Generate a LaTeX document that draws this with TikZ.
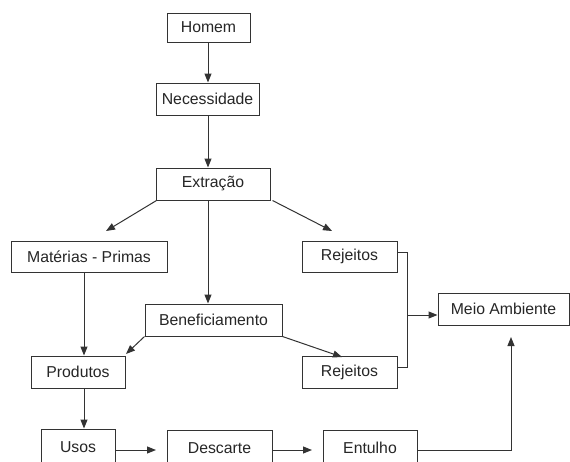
\documentclass[tikz,border=0pt]{standalone}
\usepackage{fontspec}
\setmainfont{Liberation Sans}
\usetikzlibrary{arrows.meta}
\begin{document}
\begin{tikzpicture}[x=1pt,y=-1pt,
  box/.style={draw=black!80, line width=1pt, inner sep=0pt, font=\fontsize{15.8}{18}\selectfont, text=black!85},
  conn/.style={draw=black!80, line width=1pt},
  arr/.style={conn, -{Triangle[length=9pt,width=7pt]}}]
\useasboundingbox (0,0) rectangle (570,461);
\clip (0,0) rectangle (570,461);
\fill[white] (0,0) rectangle (570,461);
% boxes
\node[box, minimum width=83pt, minimum height=29pt] (homem) at (208.5,27.5) {Homem};
\node[box, minimum width=103pt, minimum height=32pt] (neces) at (207.5,99) {Necessidade};
\node[box, minimum width=114pt, minimum height=32pt] (extr) at (213,184) {Extração};
\node[box, minimum width=156pt, minimum height=31pt] (mat) at (89,256.5) {Matérias - Primas};
\node[box, minimum width=95pt, minimum height=31pt] (rej1) at (349.5,256.5) {Rejeitos};
\node[box, minimum width=137pt, minimum height=32pt] (benef) at (213.5,320) {Beneficiamento};
\node[box, minimum width=94pt, minimum height=32pt] (prod) at (78,372) {Produtos};
\node[box, minimum width=95pt, minimum height=32pt] (rej2) at (349.5,372) {Rejeitos};
\node[box, minimum width=131pt, minimum height=32pt] (meio) at (503.5,309) {Meio Ambiente};
\node[box, minimum width=74pt, minimum height=36pt] (usos) at (78,447) {Usos};
\node[box, minimum width=105pt, minimum height=36pt] (desc) at (219.5,448) {Descarte};
\node[box, minimum width=94pt, minimum height=36pt] (entu) at (370,448) {Entulho};
% free-end coordinates
\coordinate (tmat) at (106,231);
\coordinate (trej) at (332,231);
\coordinate (tprod) at (126,354);
\coordinate (trej2) at (342,357);
\coordinate (jx) at (407,315);
\coordinate (tdesc) at (156,450);
\coordinate (tentu) at (312,450);
\coordinate (tmeio) at (511,337);
% connectors
\draw[arr] (208,42) coordinate (hs) (homem.south -| hs) -- (neces.north -| hs);
\draw[arr] (neces.south -| hs) -- (extr.north -| hs);
\draw[arr] (extr.south west) ++(1,0) -- (tmat);
\draw[arr] (extr.south east) ++(2,0) -- (trej);
\draw[arr] (extr.south -| hs) -- (benef.north -| hs);
\draw[arr] (84,272) coordinate (mx) (mat.south -| mx) -- (prod.north -| mx);
\draw[arr] (prod.south -| mx) -- (usos.north -| mx);
\draw[arr] (benef.south west) -- (tprod);
\draw[arr] (benef.south east) -- (trej2);
\draw[conn] (rej1.east) ++(0,-4) -- ++(10,0) |- ([yshift=5pt]rej2.east);
\draw[arr] (jx) -- (meio.west |- jx);
\draw[arr] (usos.east |- tdesc) -- (tdesc);
\draw[arr] (desc.east |- tentu) -- (tentu);
\draw[arr] (entu.east |- tentu) -| (tmeio);
\end{tikzpicture}
\end{document}
